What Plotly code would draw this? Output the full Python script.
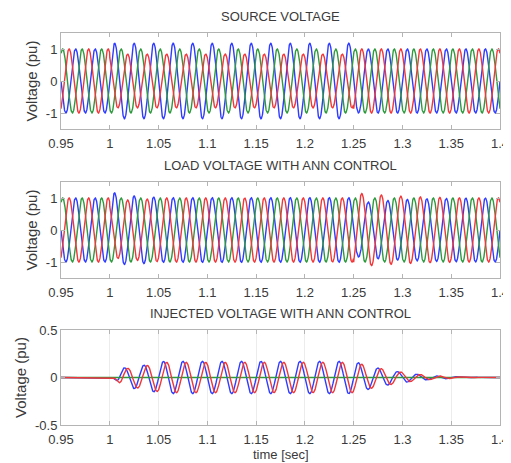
import numpy as np
import plotly.graph_objects as go
from plotly.subplots import make_subplots

# ---- values ----
FREQ_HZ = 50
T_START, T_END, T_STEP = 0.95, 1.40, 0.0002
PHASES = ["a", "b", "c"]
PHASE_DEG = {"a": 0, "b": -120, "c": 120}
COLORS = {"a": "#2f3cff", "b": "#2e9a3e", "c": "#f0383a"}

# source voltage amplitude envelopes (time, amplitude)
SRC_T = [0.95, 0.99999, 1.0, 1.24999, 1.25, 1.40]
SRC_AMP = {
    "a": [1.0, 1.0, 1.18, 1.18, 1.0, 1.0],
    "b": [1.0, 1.0, 1.0, 1.0, 1.0, 1.0],
    "c": [1.0, 1.0, 0.84, 0.84, 1.0, 1.0],
}
# injected voltage envelopes (time, amplitude, sign relative to phase)
INJ_T = [0.95, 1.003, 1.013, 1.035, 1.055, 1.25, 1.27, 1.29, 1.31, 1.33, 1.36, 1.40]
INJ_AMP = {
    "a": [0, 0, 0.10, 0.13, 0.17, 0.17, 0.11, 0.07, 0.04, 0.02, 0.005, 0],
    "b": [0, 0, 0.0, 0.0, 0.0, 0.0, 0.0, 0.0, 0.0, 0.0, 0.0, 0],
    "c": [0, 0, 0.09, 0.12, 0.16, 0.16, 0.11, 0.07, 0.04, 0.02, 0.005, 0],
}
INJ_SIGN = {"a": -1, "b": 1, "c": 1}

TITLES = ["SOURCE VOLTAGE", "LOAD VOLTAGE WITH ANN CONTROL", "INJECTED VOLTAGE WITH ANN CONTROL"]
X_TICKS = [0.95, 1.0, 1.05, 1.1, 1.15, 1.2, 1.25, 1.3, 1.35, 1.4]
X_TICK_TEXT = ["0.95", "1", "1.05", "1.1", "1.15", "1.2", "1.25", "1.3", "1.35", "1.4"]
Y_TICKS_MAIN = [-1, 0, 1]
Y_TICKS_INJ = [-0.5, 0, 0.5]
Y_TICK_TEXT_INJ = ["-0.5", "0", "0.5"]
Y_LABEL = "Voltage (pu)"
X_LABEL = "time [sec]"

# ---- waveforms ----
t = np.arange(T_START, T_END + T_STEP / 2, T_STEP)
w = 2 * np.pi * FREQ_HZ
src, inj, load = {}, {}, {}
for p in PHASES:
    base = np.sin(w * t + np.deg2rad(PHASE_DEG[p]))
    src[p] = np.interp(t, SRC_T, SRC_AMP[p]) * base
    inj[p] = INJ_SIGN[p] * np.interp(t, INJ_T, INJ_AMP[p]) * base
    load[p] = src[p] + inj[p]

# page has an 8px body margin: figure is drawn at (8, 8)
OFF = 8
W, H = 511 - OFF, 463 - OFF
fig = make_subplots(rows=3, cols=1)
for row, data in enumerate([src, load, inj], start=1):
    for p in PHASES:
        fig.add_trace(go.Scatter(x=t, y=data[p], mode="lines",
                                 line=dict(color=COLORS[p], width=1.4),
                                 showlegend=False, hoverinfo="skip"),
                      row=row, col=1)

# domains (window pixel rows from top)
dom_px = [(33, 129), (182, 278), (330, 425)]
title_px = [16, 165, 313]
font = dict(family="Liberation Sans, Arial, sans-serif", size=13, color="#3a3a3a")
ylab_font = dict(family="Liberation Sans, Arial, sans-serif", size=15, color="#3a3a3a")
axis_common = dict(showline=True, linecolor="#b4b4b4", linewidth=1, mirror="ticks",
                   ticks="inside", ticklen=4, tickcolor="#b4b4b4", zeroline=False,
                   tickfont=font, automargin=False)
for i, (top, bot) in enumerate(dom_px, start=1):
    top, bot = top - OFF, bot - OFF
    xa = "xaxis" if i == 1 else f"xaxis{i}"
    ya = "yaxis" if i == 1 else f"yaxis{i}"
    fig.layout[xa].update(domain=[0, 1], range=[T_START, T_END], tickvals=X_TICKS,
                          ticktext=X_TICK_TEXT, showgrid=(i == 3), gridcolor="#ececec",
                          ticklabelstandoff=2, **axis_common)
    if i < 3:
        fig.layout[ya].update(domain=[1 - bot / H, 1 - top / H], range=[-1.5, 1.5],
                              tickvals=Y_TICKS_MAIN, ticktext=["-1", "0", "1"],
                              showgrid=False, **axis_common)
    else:
        fig.layout[ya].update(domain=[1 - bot / H, 1 - top / H], range=[-0.5, 0.5],
                              tickvals=Y_TICKS_INJ, ticktext=Y_TICK_TEXT_INJ,
                              showgrid=False, **axis_common)
    fig.layout[ya].title = dict(text=Y_LABEL, font=ylab_font, standoff=4)

annotations = []
for txt, y in zip(TITLES, title_px):
    annotations.append(dict(text=txt, x=0.5, xref="paper", y=1 - (y - OFF) / H, yref="paper",
                            xanchor="center", yanchor="middle", showarrow=False, font=font))
annotations.append(dict(text=X_LABEL, x=0.5, xref="paper", y=1 - (454 - OFF) / H, yref="paper",
                        xanchor="center", yanchor="middle", showarrow=False, font=font))
fig.update_layout(width=W, height=H, margin=dict(l=61 - OFF, r=11, t=0, b=0, pad=0),
                  paper_bgcolor="white", plot_bgcolor="white", annotations=annotations,
                  font=font, template="none")
fig.write_html("out.html")
